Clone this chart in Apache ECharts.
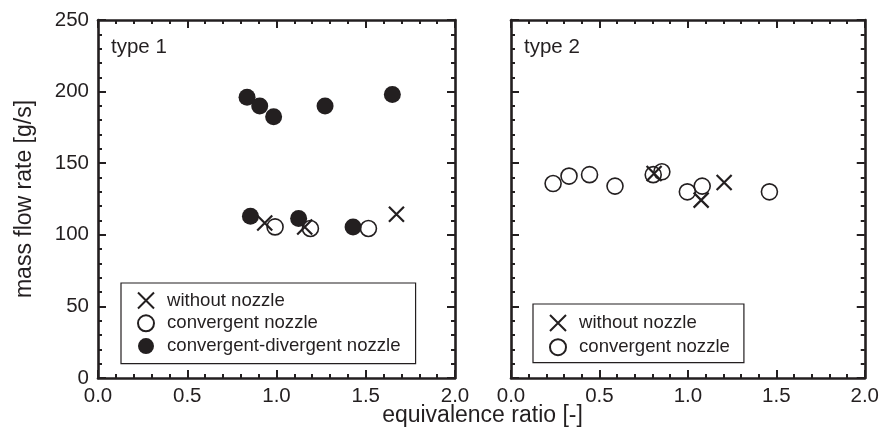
<!DOCTYPE html>
<html>
<head>
<meta charset="utf-8">
<script src="https://cdn.jsdelivr.net/npm/echarts@6/dist/echarts.min.js"></script>
<style>html,body{margin:0;padding:0;background:#fff}#c{width:882px;height:435px}</style>
</head>
<body>
<div id="c"></div>
<script>
// ---- data ----
var xTicks = [0.0, 0.5, 1.0, 1.5, 2.0];
var yTicks = [0, 50, 100, 150, 200, 250];
var panelLabels = ['type 1', 'type 2'];
var seriesNames = ['without nozzle', 'convergent nozzle', 'convergent-divergent nozzle'];

var t1WithoutX = [0.934, 1.158, 1.672];
var t1WithoutY = [108.3, 105.5, 114.4];
var t1ConvX = [0.992, 1.19, 1.515];
var t1ConvY = [105.5, 104.4, 104.4];
var t1CdX = [0.835, 0.906, 0.984, 1.272, 1.649, 0.854, 1.124, 1.429];
var t1CdY = [196, 190, 182.4, 190, 198, 113, 111.4, 105.5];

var t2WithoutX = [0.809, 1.075, 1.205];
var t2WithoutY = [142.8, 124.2, 136.5];
var t2ConvX = [0.238, 0.328, 0.444, 0.588, 0.804, 0.853, 0.997, 1.081, 1.461];
var t2ConvY = [135.8, 141, 142, 134, 142, 144, 130, 134, 130];

// ---- chart ----
var INK = '#231f20';
var FONT = '"Liberation Sans", Arial, Helvetica, sans-serif';
function pairs(xs, ys) { return xs.map(function (x, i) { return [x, ys[i]]; }); }

var xMin = xTicks[0], xMax = xTicks[xTicks.length - 1], xInt = xTicks[1] - xTicks[0];
var yMin = yTicks[0], yMax = yTicks[yTicks.length - 1], yInt = yTicks[1] - yTicks[0];

function axisBase(showLabel) {
  return {
    axisLine: { show: true, onZero: false, lineStyle: { color: INK, width: 2.6 } },
    axisTick: { show: true, inside: true, length: 8, lineStyle: { color: INK, width: 2 } },
    minorTick: { show: true, splitNumber: 5, length: 4, lineStyle: { color: INK, width: 2 } },
    splitLine: { show: false },
    minorSplitLine: { show: false },
    axisLabel: { show: showLabel, color: INK, fontFamily: FONT, fontSize: 20.5 }
  };
}
function xAxis(grid, pos, showLabel) {
  var a = axisBase(showLabel);
  a.type = 'value'; a.gridIndex = grid; a.position = pos;
  a.min = xMin; a.max = xMax; a.interval = xInt;
  a.axisLabel.margin = 8;
  a.axisLabel.formatter = function (v) { return v.toFixed(1); };
  return a;
}
function yAxis(grid, pos, showLabel) {
  var a = axisBase(showLabel);
  a.type = 'value'; a.gridIndex = grid; a.position = pos;
  a.min = yMin; a.max = yMax; a.interval = yInt;
  a.axisLabel.margin = 9;
  return a;
}

var xMark = 'path://M0,0L10,10M10,0L0,10';
var xStyle = { color: 'rgba(0,0,0,0)', borderColor: INK, borderWidth: 2.2, opacity: 1 };
var openStyle = { color: 'rgba(0,0,0,0)', borderColor: INK, borderWidth: 1.6, opacity: 1 };
var fillStyle = { color: INK, borderColor: INK, borderWidth: 0, opacity: 1 };

var y0 = yAxis(0, 'left', true);
y0.name = 'mass flow rate [g/s]';
y0.nameLocation = 'middle';
y0.nameGap = 62;
y0.nameTextStyle = { color: INK, fontFamily: FONT, fontSize: 23 };

var legendText = { color: INK, fontFamily: FONT, fontSize: 18.6, lineHeight: 16, padding: [0, 0, 0, 8] };

var option = {
  backgroundColor: '#fff',
  animation: false,
  grid: [
    { left: 98, top: 20, width: 357, height: 358 },
    { left: 511, top: 20, width: 356, height: 358 }
  ],
  xAxis: [xAxis(0, 'bottom', true), xAxis(0, 'top', false), xAxis(1, 'bottom', true), xAxis(1, 'top', false)],
  yAxis: [y0, yAxis(0, 'right', false), yAxis(1, 'left', false), yAxis(1, 'right', false)],
  legend: [
    {
      data: seriesNames, orient: 'vertical', left: 121, top: 283,
      itemWidth: 16, itemHeight: 16, itemGap: 3.8,
      padding: [8, 15, 8, 16],
      borderColor: INK, borderWidth: 1.2, borderRadius: 0,
      textStyle: legendText, selectedMode: false
    },
    {
      data: seriesNames.slice(0, 2), orient: 'vertical', left: 533, top: 304,
      itemWidth: 16, itemHeight: 16, itemGap: 5.2,
      padding: [9.5, 14, 6, 16],
      borderColor: INK, borderWidth: 1.2, borderRadius: 0,
      textStyle: legendText, selectedMode: false
    }
  ],
  graphic: [
    { type: 'text', left: 111, top: 37, style: { text: panelLabels[0], fill: INK, font: '20.5px ' + FONT } },
    { type: 'text', left: 524, top: 37, style: { text: panelLabels[1], fill: INK, font: '20.5px ' + FONT } },
    { type: 'text', x: 482.5, y: 416, style: { text: 'equivalence ratio [-]', fill: INK, font: '23px ' + FONT, align: 'center', verticalAlign: 'middle' } }
  ],
  series: [
    { name: seriesNames[0], type: 'scatter', xAxisIndex: 0, yAxisIndex: 0, symbol: xMark, symbolSize: 15, itemStyle: xStyle, data: pairs(t1WithoutX, t1WithoutY), z: 2 },
    { name: seriesNames[1], type: 'scatter', xAxisIndex: 0, yAxisIndex: 0, symbol: 'circle', symbolSize: 16, itemStyle: openStyle, data: pairs(t1ConvX, t1ConvY), z: 3 },
    { name: seriesNames[2], type: 'scatter', xAxisIndex: 0, yAxisIndex: 0, symbol: 'circle', symbolSize: 17, itemStyle: fillStyle, data: pairs(t1CdX, t1CdY), z: 4 },
    { name: seriesNames[0], type: 'scatter', xAxisIndex: 2, yAxisIndex: 2, symbol: xMark, symbolSize: 15, itemStyle: xStyle, data: pairs(t2WithoutX, t2WithoutY), z: 2 },
    { name: seriesNames[1], type: 'scatter', xAxisIndex: 2, yAxisIndex: 2, symbol: 'circle', symbolSize: 16, itemStyle: openStyle, data: pairs(t2ConvX, t2ConvY), z: 3 }
  ]
};

var chart = echarts.init(document.getElementById('c'), null, { renderer: 'canvas' });
chart.setOption(option);
</script>
</body>
</html>
